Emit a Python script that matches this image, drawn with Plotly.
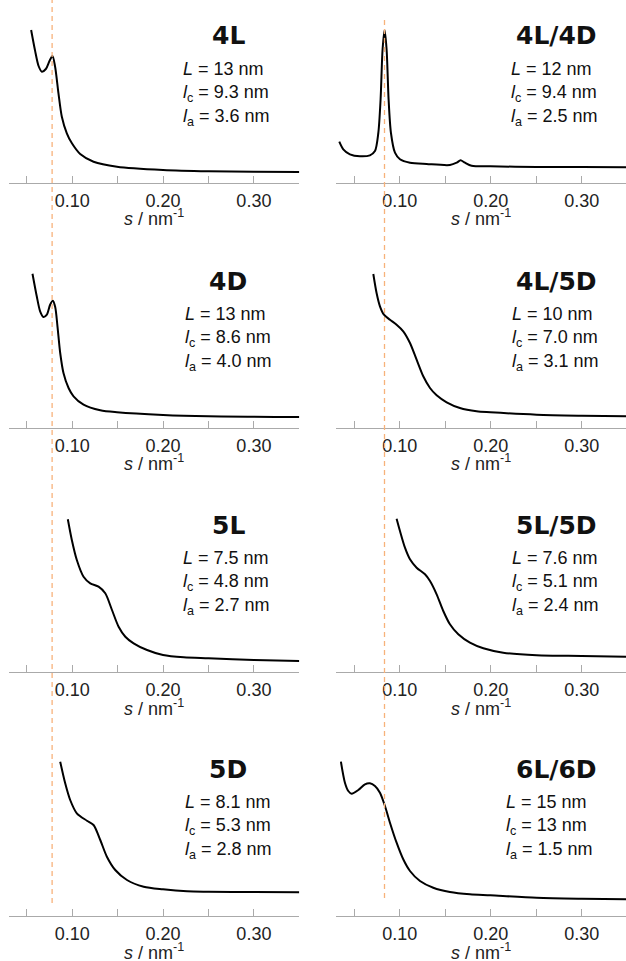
import plotly.graph_objects as go

# ---------------- data (s in nm^-1, intensity in arbitrary units) ----------------
names = ["4L", "4L/4D", "4D", "4L/5D", "5L", "5L/5D", "5D", "6L/6D"]
L_vals = ["13", "12", "13", "10", "7.5", "7.6", "8.1", "15"]
lc_vals = ["9.3", "9.4", "8.6", "7.0", "4.8", "5.1", "5.3", "13"]
la_vals = ["3.6", "2.5", "4.0", "3.1", "2.7", "2.4", "2.8", "1.5"]

s_4L = [0.0548, 0.0590, 0.0630, 0.0666, 0.0710, 0.0750, 0.0783, 0.0812, 0.0849, 0.0886, 0.0941, 0.0997,
        0.1088, 0.1235, 0.1493, 0.2000, 0.2500, 0.3000, 0.3500]
i_4L = [153, 133, 117, 111.3, 114, 122, 127, 116.3, 89.7, 66.3, 49.7, 39.7,
        29, 21.3, 16.3, 13, 11.7, 11.3, 11]

s_4L4D = [0.0335, 0.0379, 0.0452, 0.0562, 0.0672, 0.0727, 0.0764, 0.0789, 0.0811, 0.0833, 0.0855, 0.0877,
          0.0903, 0.0947, 0.1002, 0.1112, 0.1295, 0.1551, 0.1625, 0.1668, 0.1716, 0.1789, 0.1995,
          0.2504, 0.3000, 0.3486]
i_4L4D = [41.3, 33.7, 28.7, 26.7, 27.7, 32, 50, 83.7, 133.7, 153, 133.7, 83.7,
          50, 30.3, 23.7, 20.3, 19, 18, 20.3, 22.7, 20.3, 17.3, 16.7,
          16, 16, 15.7]

s_4D = [0.0563, 0.0610, 0.0647, 0.0684, 0.0721, 0.0757, 0.0787, 0.0813, 0.0838, 0.0868, 0.0904, 0.0960,
        0.1015, 0.1125, 0.1309, 0.1493, 0.2000, 0.2500, 0.3500]
i_4D = [154.3, 131.7, 116.7, 111, 113.3, 123.3, 127.3, 121, 101.7, 75, 55, 40,
        31.7, 23.3, 17.7, 15.7, 13, 11.7, 11]

s_4L5D = [0.0709, 0.0745, 0.0782, 0.0826, 0.0892, 0.0965, 0.1038, 0.1112, 0.1185, 0.1258, 0.1332, 0.1405,
          0.1515, 0.1661, 0.1844, 0.1995, 0.2504, 0.3000, 0.3486]
i_4L5D = [154, 135, 121.7, 113.3, 108.3, 103.3, 96.7, 85, 68.3, 51.7, 40, 32.7,
          25.7, 20, 16.7, 15.7, 13.3, 12.3, 11.7]

s_5L = [0.0952, 0.0996, 0.1051, 0.1125, 0.1199, 0.1290, 0.1364, 0.1438, 0.1511, 0.1585, 0.1676, 0.1824,
        0.2000, 0.2228, 0.2500, 0.3000, 0.3500]
i_5L = [152.7, 132, 112, 95.3, 88.7, 85.3, 78.7, 62, 45.3, 35.3, 28.7, 22,
        17, 14.7, 13.7, 12, 11]

s_5L5D = [0.0965, 0.1002, 0.1057, 0.1112, 0.1185, 0.1277, 0.1332, 0.1405, 0.1478, 0.1551, 0.1643, 0.1771,
          0.1918, 0.2137, 0.2504, 0.3000, 0.3486]
i_5L5D = [153.3, 141, 124.3, 112.7, 104.3, 97.7, 91, 77.7, 61, 47.7, 37.7, 29.3,
          23.7, 19.3, 16.7, 16, 15.3]

s_5D = [0.0868, 0.0923, 0.0978, 0.1051, 0.1162, 0.1235, 0.1309, 0.1382, 0.1474, 0.1603, 0.1787, 0.2000,
        0.2265, 0.2500, 0.3000, 0.3500]
i_5D = [154.3, 132.7, 116, 102.7, 95.3, 91, 76, 59.3, 46, 36, 29.3, 26.7,
        24.7, 24.3, 24, 23.7]

s_6L6D = [0.0353, 0.0397, 0.0434, 0.0471, 0.0544, 0.0617, 0.0672, 0.0727, 0.0782, 0.0837, 0.0892, 0.0965,
          0.1038, 0.1112, 0.1222, 0.1368, 0.1551, 0.1771, 0.1995, 0.2504, 0.3000, 0.3486]
i_6L6D = [154.3, 133.3, 125, 122.3, 126, 131.7, 132.7, 130, 123.3, 110, 93.3, 73.3,
          56.7, 45, 35, 28.3, 24, 21.7, 20.7, 18.3, 17.3, 16.7]

series_s = [s_4L, s_4L4D, s_4D, s_4L5D, s_5L, s_5L5D, s_5D, s_6L6D]
series_i = [i_4L, i_4L4D, i_4D, i_4L5D, i_5L, i_5L5D, i_5D, i_6L6D]

tick_vals = [0.05, 0.10, 0.15, 0.20, 0.25, 0.30, 0.35]
tick_text = ["", "0.10", "", "0.20", "", "0.30", ""]
ref_lines = [0.0779, 0.0832]  # dashed guide positions (left column, right column)

# ---------------- layout geometry (pixels) ----------------
W, H = 626, 961
axis_y = [183, 428, 672, 916]
col_px = [(8.6, 299.3), (336.0, 626.0)]
col_range = [(0.030, 0.350), (0.0299, 0.3486)]
plot_h = 160
title_x = [228, 556]
stats_x = [[181, 509], [182.5, 510], [181, 510], [182.5, 504]]

def px_x(p):
    return p / W

def px_y(p):
    return 1 - p / H

fig = go.Figure()
layout = dict(
    width=W, height=H,
    margin=dict(l=0, r=0, t=0, b=0),
    paper_bgcolor="white", plot_bgcolor="white",
    showlegend=False,
    font=dict(family="Liberation Sans, Arial, sans-serif", color="#111"),
)
annotations = []
shapes = []

for k in range(8):
    row, col = divmod(k, 2)
    n = k + 1
    xa = "x" if n == 1 else f"x{n}"
    ya = "y" if n == 1 else f"y{n}"
    fig.add_trace(go.Scatter(
        x=series_s[k], y=series_i[k], mode="lines",
        line=dict(color="black", width=2, shape="spline", smoothing=0.8),
        xaxis=xa, yaxis=ya, hoverinfo="skip"))
    ay = axis_y[row]
    layout[f"xaxis{'' if n == 1 else n}"] = dict(
        domain=[px_x(col_px[col][0]), px_x(col_px[col][1])],
        range=list(col_range[col]),
        anchor=ya,
        showgrid=False, zeroline=False,
        showline=True, linecolor="#aaaaaa", linewidth=1,
        ticks="inside", ticklen=7, tickcolor="#aaaaaa", tickwidth=1,
        tickmode="array", tickvals=tick_vals, ticktext=tick_text,
        tickfont=dict(size=18, color="#222", family="Liberation Sans, Arial, sans-serif"),
        ticklabelstandoff=1,
        fixedrange=True,
    )
    layout[f"yaxis{'' if n == 1 else n}"] = dict(
        domain=[px_y(ay), px_y(ay - plot_h)],
        range=[0, plot_h],
        anchor=xa,
        visible=False, fixedrange=True,
    )
    cx = (col_px[col][0] + col_px[col][1]) / 2
    # axis title
    annotations.append(dict(
        x=px_x(cx), y=px_y(ay + 35), xref="paper", yref="paper",
        text="<i>s</i> / nm<sup>-1</sup>", showarrow=False,
        xanchor="center", yanchor="middle",
        font=dict(size=18, color="#222")))
    # panel title
    annotations.append(dict(
        x=px_x(title_x[col]), y=px_y(ay - 147), xref="paper", yref="paper",
        text=f"<b>{names[k]}</b>", showarrow=False,
        xanchor="center", yanchor="middle",
        font=dict(size=25, color="#111", family="DejaVu Sans, sans-serif")))
    sx = stats_x[row][col]
    lines = [f"<i>L</i> = {L_vals[k]} nm",
             f"<i>l</i><sub>c</sub> = {lc_vals[k]} nm",
             f"<i>l</i><sub>a</sub> = {la_vals[k]} nm"]
    offs = [-114, -90, -66]
    for t, o in zip(lines, offs):
        annotations.append(dict(
            x=px_x(sx), y=px_y(ay + o), xref="paper", yref="paper",
            text=t, showarrow=False, xanchor="left", yanchor="middle",
            font=dict(size=18, color="#111")))

# dashed guide lines spanning each column
shapes.append(dict(type="line", xref="x", yref="paper",
                   x0=ref_lines[0], x1=ref_lines[0], y0=px_y(903), y1=1,
                   line=dict(color="#F7B27A", width=1.3, dash="5px,4px")))
shapes.append(dict(type="line", xref="x2", yref="paper",
                   x0=ref_lines[1], x1=ref_lines[1], y0=px_y(898), y1=px_y(18),
                   line=dict(color="#F7B27A", width=1.3, dash="5px,4px")))

layout["annotations"] = annotations
layout["shapes"] = shapes
fig.update_layout(**layout)
fig.write_html(
    "out.html",
    config={"displayModeBar": False},
    post_script="document.body.style.margin='0';document.body.style.overflow='hidden';",
)
